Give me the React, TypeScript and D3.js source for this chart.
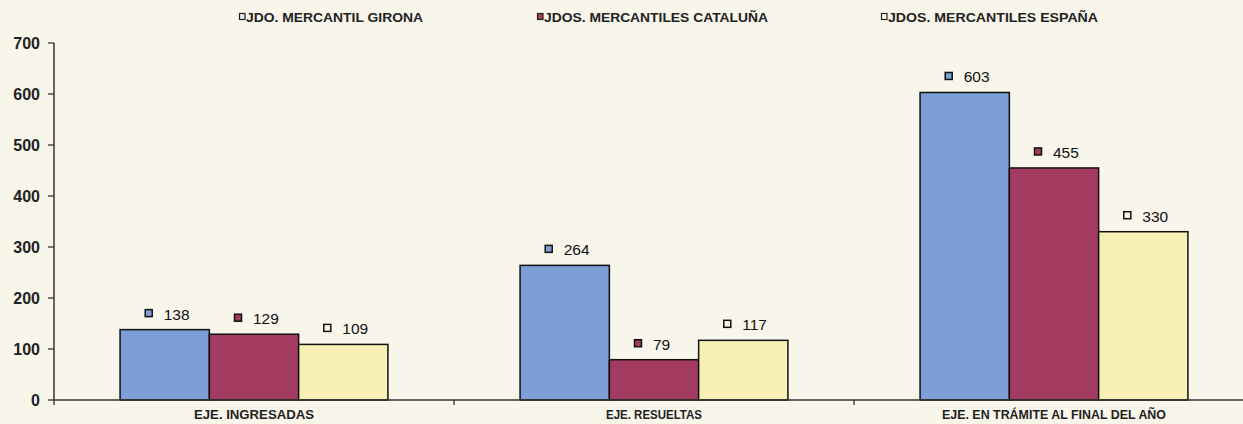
import React from "react";
import * as d3 from "d3";

const categories = ["EJE. INGRESADAS", "EJE. RESUELTAS", "EJE. EN TRÁMITE AL FINAL DEL AÑO"];
const seriesNames = ["JDO. MERCANTIL GIRONA", "JDOS. MERCANTILES CATALUÑA", "JDOS. MERCANTILES ESPAÑA"];
const girona = [138, 264, 603];
const cataluna = [129, 79, 455];
const espana = [109, 117, 330];
const yTicks = [0, 100, 200, 300, 400, 500, 600, 700];
const colors = ["#7c9fd5", "#a33b60", "#f6f0b4"];

const W = 1243;
const H = 424;
const left = 54;
const right = 1254;
const top = 43;
const bottom = 400;

export default function App() {
  const series = [girona, cataluna, espana];
  const x0 = d3.scaleBand<string>().domain(categories).range([left, right]).paddingInner(0).paddingOuter(0);
  const x1 = d3.scaleBand<number>().domain([0, 1, 2]).range([0, x0.bandwidth()]).paddingOuter(0.74).paddingInner(0);
  const y = d3.scaleLinear().domain([0, 700]).range([bottom, top]);
  const font = "'Liberation Sans', Arial, sans-serif";
  const legendX = [239, 537, 881];
  const legendLen = [177, 224, 210];
  const catLen = [120, 96, 224];
  return (
    <svg width={W} height={H} style={{ position: "absolute", left: 0, top: 0 }}>
      <rect x={0} y={0} width={W} height={H} fill="#f8f5ea" />
      {/* legend */}
      {seriesNames.map((s, i) => (
        <g key={s}>
          <rect x={legendX[i] + 0.5} y={13.5} width={5.5} height={6} fill={i === 0 ? "#e6ebf3" : i === 1 ? colors[1] : "#fbf8ec"} stroke="#222" strokeWidth={1.2} />
          <text x={legendX[i] + 7} y={21.5} fontFamily={font} fontWeight="bold" fontSize={12} fill="#222"
            textLength={legendLen[i]} lengthAdjust="spacingAndGlyphs">{s}</text>
        </g>
      ))}
      {/* bars */}
      {categories.map((c, ci) => (
        <g key={c}>
          {series.map((vals, si) => {
            const bx = (x0(c) as number) + (x1(si) as number);
            const bw = x1.bandwidth();
            const v = vals[ci];
            return (
              <g key={si}>
                <rect x={bx} y={y(v)} width={bw} height={bottom - y(v)} fill={colors[si]} stroke="#111" strokeWidth={1.5} />
                <rect x={bx + bw / 2 - 19.5} y={y(v) - 20} width={7} height={7} fill={si === 2 ? "#f8f5ea" : colors[si]} stroke="#111" strokeWidth={1.5} />
                <text x={bx + bw / 2 - 1} y={y(v) - 10} fontFamily={font} fontSize={15.5} fill="#111">{v}</text>
              </g>
            );
          })}
          <text x={(x0(c) as number) + x0.bandwidth() / 2} y={419} textAnchor="middle" fontFamily={font} fontWeight="bold" fontSize={12.5} fill="#222"
            textLength={catLen[ci]} lengthAdjust="spacingAndGlyphs">{c}</text>
        </g>
      ))}
      {/* x axis */}
      <line x1={left} x2={W} y1={bottom} y2={bottom} stroke="#333" strokeWidth={1.3} />
      {categories.map((c) => (
        <line key={c} x1={x0(c) as number} x2={x0(c) as number} y1={bottom} y2={bottom + 5} stroke="#333" strokeWidth={1.3} />
      ))}
      {/* y axis */}
      <line x1={left} x2={left} y1={top} y2={bottom} stroke="#333" strokeWidth={1.5} />
      {yTicks.map((t) => (
        <g key={t}>
          <line x1={left - 6} x2={left} y1={y(t)} y2={y(t)} stroke="#333" strokeWidth={1.3} />
          <text x={40} y={y(t) + 6} textAnchor="end" fontFamily={font} fontWeight="bold" fontSize={16} fill="#222">{t}</text>
        </g>
      ))}
    </svg>
  );
}
